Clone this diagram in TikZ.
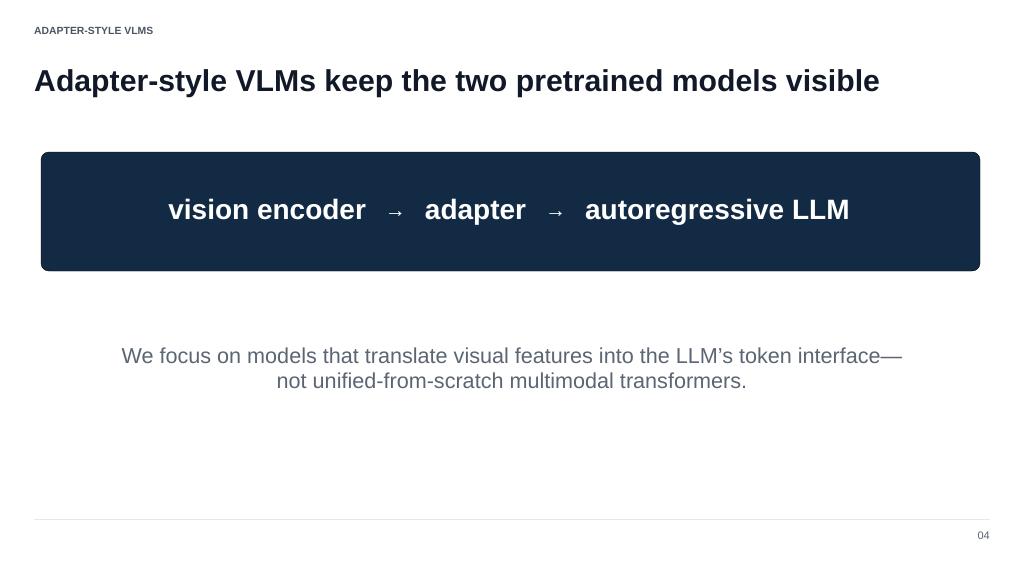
\documentclass[tikz,border=0pt]{standalone}
\usepackage{fontspec}
\setmainfont{Liberation Sans}
\definecolor{navy}{HTML}{132A44}
\definecolor{titlecol}{HTML}{111827}
\definecolor{graytext}{HTML}{5B6573}
\definecolor{kicker}{HTML}{4B5563}
\definecolor{rulecol}{HTML}{E5E7EB}
\newcommand{\flowarrow}{\hspace{19pt}\raisebox{1.5pt}{\mdseries\fontsize{21}{24}\selectfont →}\hspace{19pt}}
\begin{document}
\begin{tikzpicture}[x=1pt,y=-1pt,
  kickerstyle/.style={anchor=base west,inner sep=0pt,text=kicker,font=\fontsize{10.4}{12}\selectfont\bfseries},
  titlestyle/.style={anchor=base west,inner sep=0pt,text=titlecol,font=\fontsize{30.2}{36}\selectfont\bfseries},
  bandstyle/.style={fill=navy,rounded corners=8pt},
  bandtext/.style={inner sep=0pt,text=white,font=\fontsize{28}{32}\selectfont\bfseries},
  bodystyle/.style={inner sep=0pt,text=graytext,align=center,font=\fontsize{21.6}{25}\selectfont},
  pagestyle/.style={anchor=base east,inner sep=0pt,text=graytext,font=\fontsize{11}{13}\selectfont}]
\useasboundingbox[fill=white] (0,0) rectangle (1024,575);
\node[kickerstyle] (kick) at (34,34.5) {ADAPTER-STYLE VLMS};
\node[titlestyle] (title) at (34,92) {Adapter-style VLMs keep the two pretrained models visible};
\draw[bandstyle] (41,152) rectangle (980,271);
\node[bandtext,anchor=base] (flow) at (509,219) {vision encoder\flowarrow adapter\flowarrow autoregressive LLM};
\node[bodystyle,anchor=base] (body) at (512,388) {We focus on models that translate visual features into the LLM’s token interface—\\not unified-from-scratch multimodal transformers.};
\draw[rulecol,line width=1pt] (34,519) -- (990,519);
\node[pagestyle] (page) at (990,539) {04};
\end{tikzpicture}
\end{document}
